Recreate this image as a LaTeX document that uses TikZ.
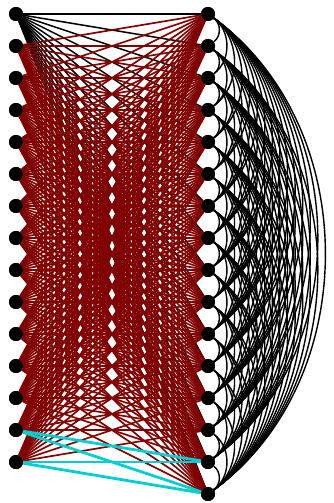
\documentclass[tikz,border=0pt]{standalone}
\definecolor{maroonE}{RGB}{128,0,0}
\definecolor{turq}{RGB}{0,206,209}
\tikzset{
  vtx/.style={circle,fill=black,inner sep=0pt,minimum size=14pt},
  redE/.style={draw=maroonE,line width=1.7pt},
  blkE/.style={draw=black,line width=1.5pt},
  arcE/.style={draw=black,line width=1.4pt,bend left=54},
  cyE/.style={draw=turq,line width=2.8pt}
}
\begin{document}
\begin{tikzpicture}[x=1pt,y=-1pt]
\useasboundingbox (0,0) rectangle (334,503);
\foreach \i in {1,...,15} \node[vtx] (L\i) at (16,{14+32*(\i-1)}) {};
\foreach \j in {1,...,16} \node[vtx] (R\j) at (208,{14+32*(\j-1)}) {};
% right-side arcs
\foreach \i in {1,...,15} {
  \pgfmathtruncatemacro{\s}{\i+1}
  \foreach \j in {\s,...,16} \path[arcE] (R\i) to (R\j);
}
% black edges from L1
\foreach \j in {1,...,16} \path[blkE] (L1) -- (R\j);
% red edges
\foreach \i in {2,...,15} \foreach \j in {1,...,16} {
  \pgfmathtruncatemacro{\skip}{(\i>13)&&(\j>14)}
  \ifnum\skip=0 \path[redE] (L\i) -- (R\j);\fi
}
% cyan edges
\foreach \i in {14,15} \foreach \j in {15,16} \path[cyE] (L\i) -- (R\j);
% nodes on top
\foreach \i in {1,...,15} \fill (L\i) circle (7pt);
\foreach \j in {1,...,16} \fill (R\j) circle (7pt);
\end{tikzpicture}
\end{document}
